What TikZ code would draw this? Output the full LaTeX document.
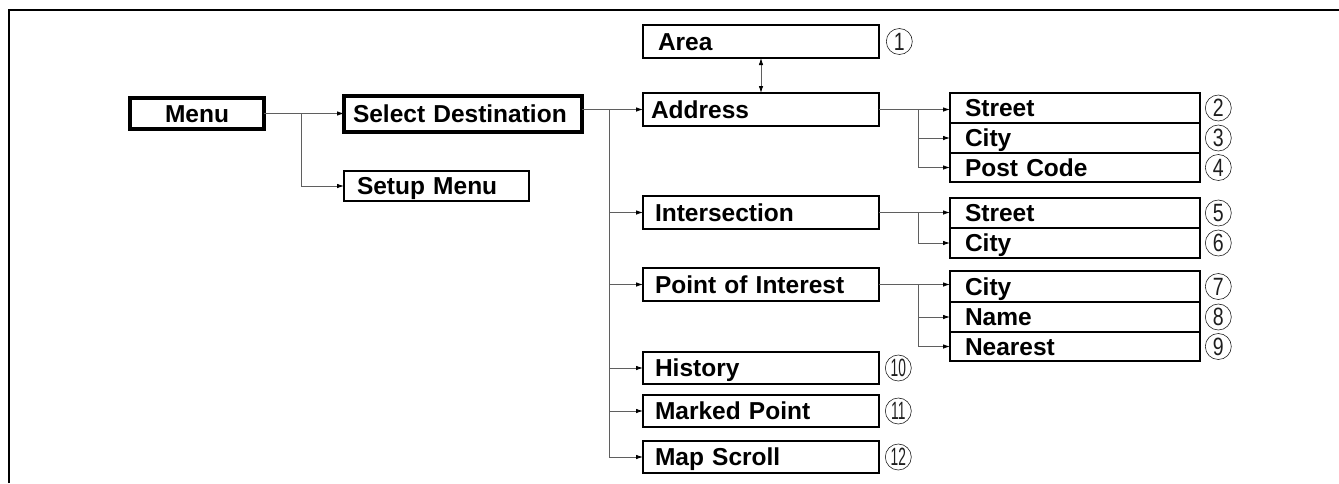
\documentclass[tikz,border=0pt]{standalone}
\usepackage{fontspec}
\usepackage{graphicx}
\setmainfont{Liberation Sans}
\usetikzlibrary{arrows.meta, positioning}
\definecolor{mydark}{RGB}{30,30,30}
\definecolor{mywire}{RGB}{95,95,95}
\newcommand{\numtxt}[2]{\scalebox{#1}[1]{#2}}
\tikzset{
  itembox/.style={rectangle, draw=black, line width=1.6pt, outer sep=0pt,
    anchor=west, text width=212pt, inner xsep=12pt, inner ysep=1pt,
    align=left, minimum height=33pt, text height=17.5pt, text depth=0pt,
    font=\fontsize{24.5}{28}\selectfont\bfseries},
  bigbox/.style={itembox, line width=4pt, text width=220pt, inner xsep=9pt,
    minimum height=36pt},
  subbox/.style={itembox, text width=220pt, inner xsep=15pt, minimum height=30pt},
  num/.style={circle, draw=mydark, line width=0.6pt, minimum size=26pt,
    inner sep=0pt, font=\fontsize{25}{25}\selectfont, text=mydark},
  arrow/.style={-{Latex[length=7pt,width=4.5pt,color=black]}, line width=0.8pt, color=mywire},
  dblarrow/.style={{Latex[length=7pt,width=4.5pt,color=black]}-{Latex[length=7pt,width=4.5pt,color=black]}, line width=0.8pt, color=mywire},
  line/.style={line width=0.8pt, color=mywire}
}

\begin{document}
\begin{tikzpicture}[x=1pt, y=-1pt]
  \useasboundingbox (0,0) rectangle (1339,483);
  % frame
  \draw[line width=2.4pt] (9,483) -- (9,10) -- (1339,10);

  % left part
  \node[bigbox, text width=116pt, align=center, minimum height=31pt] (menu) at (130,113.5) {Menu};
  \node[bigbox] (seldest) at (344,114) {Select Destination};
  \node[itembox, text width=159pt, inner xsep=13pt, minimum height=30pt] (setup) at (344,186) {Setup Menu};

  % destination entries
  \node[itembox, inner xsep=15pt, text width=206pt] (area) at (643,41.5) {Area};
  \node[itembox, inner xsep=8pt, text width=220pt] (address) at (643,109.5) {Address};
  \node[itembox] (inter) at (643,212.5) {Intersection};
  \node[itembox] (poi) at (643,284.5) {Point of Interest};
  \node[itembox, minimum height=32pt] (hist) at (643,368) {History};
  \node[itembox, minimum height=32pt] (marked) at (643,411) {Marked Point};
  \node[itembox, minimum height=32pt] (mapscroll) at (643,457) {Map Scroll};

  % address fields
  \node[subbox] (astreet) at (950,108) {Street};
  \node[subbox, below=0pt of astreet] (acity) {City};
  \node[subbox, below=0pt of acity, minimum height=29pt] (acode) {Post Code};
  % intersection fields
  \node[subbox] (istreet) at (950,213) {Street};
  \node[subbox, below=0pt of istreet] (icity) {City};
  % point of interest fields
  \node[subbox, minimum height=31pt] (pcity) at (950,286.5) {City};
  \node[subbox, below=0pt of pcity] (pname) {Name};
  \node[subbox, below=0pt of pname, minimum height=29pt] (pnear) {Nearest};

  % circled numbers
  \node[num, right=7pt of area] (n1) {\numtxt{0.78}{1}};
  \node[num, right=5pt of astreet] (n2) {\numtxt{0.78}{2}};
  \node[num, right=5pt of acity] (n3) {\numtxt{0.78}{3}};
  \node[num, right=5pt of acode] (n4) {\numtxt{0.78}{4}};
  \node[num, right=5pt of istreet] (n5) {\numtxt{0.78}{5}};
  \node[num, right=5pt of icity] (n6) {\numtxt{0.78}{6}};
  \node[num, right=5pt of pcity] (n7) {\numtxt{0.78}{7}};
  \node[num, right=5pt of pname] (n8) {\numtxt{0.78}{8}};
  \node[num, right=5pt of pnear] (n9) {\numtxt{0.78}{9}};
  \node[num, right=6pt of hist] (n10) {\numtxt{0.55}{10}};
  \node[num, right=6pt of marked] (n11) {\numtxt{0.55}{11}};
  \node[num, right=6pt of mapscroll] (n12) {\numtxt{0.55}{12}};

  % connectors
  \coordinate (mjoin) at (301,113.5);
  \draw[arrow] (menu.east) -- (menu.east -| seldest.west);
  \draw[arrow] (mjoin) |- (setup.west);

  \coordinate (sdjoin) at (609,109.5);
  \draw[arrow] (seldest.east |- address) -- (address.west);
  \foreach \n in {inter, poi, hist, marked, mapscroll}
    \draw[arrow] (sdjoin) |- (\n.west);
  \draw[dblarrow] (area.south) -- (address.north);

  \coordinate (ajoin) at (918,109.5);
  \draw[arrow] (address.east) -- (address.east -| astreet.west);
  \foreach \n in {acity, acode}
    \draw[arrow] (ajoin) |- (\n.west);

  \coordinate (ijoin) at (918,212.5);
  \draw[arrow] (inter.east) -- (inter.east -| istreet.west);
  \draw[arrow] (ijoin) |- (icity.west);

  \coordinate (pjoin) at (918,284.5);
  \draw[arrow] (poi.east) -- (poi.east -| pcity.west);
  \foreach \n in {pname, pnear}
    \draw[arrow] (pjoin) |- (\n.west);
\end{tikzpicture}
\end{document}
